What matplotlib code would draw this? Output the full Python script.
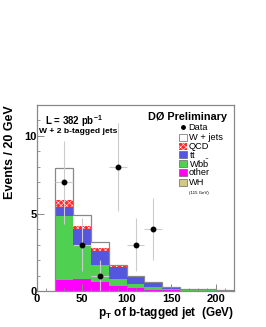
import numpy as np
import matplotlib
matplotlib.use("Agg")
import matplotlib.pyplot as plt
from matplotlib.patches import Rectangle

plt.rcParams['font.family'] = ['Liberation Sans', 'DejaVu Sans']
plt.rcParams['mathtext.fontset'] = 'custom'
plt.rcParams['mathtext.rm'] = 'Liberation Sans'
plt.rcParams['mathtext.bf'] = 'Liberation Sans:bold'
plt.rcParams['hatch.linewidth'] = 0.4

# bin edges (GeV)
edges = np.arange(20, 221, 20)

# stacked components per bin
other = [0.72, 0.77, 0.60, 0.32, 0.17, 0.08, 0.04, 0.03, 0.02, 0.02]
wbb = [4.12, 2.13, 1.08, 0.45, 0.28, 0.16, 0.06, 0.03, 0.02, 0.02]
ttbar = [0.61, 1.08, 0.92, 0.75, 0.48, 0.33, 0.12, 0.05, 0.05, 0.04]
qcd = [0.42, 0.21, 0.15, 0.13, 0.04, 0.03, 0.02, 0.01, 0.01, 0.01]
wjets = [2.03, 0.71, 0.37, 0.00, 0.00, 0.00, 0.00, 0.00, 0.00, 0.00]
wh = [0.01, 0.01, 0.01, 0.01, 0.01, 0.0, 0.0, 0.0, 0.0, 0.0]

# data
data_x = [30, 50, 70, 90, 110, 130]
data_y = [7, 3, 1, 8, 3, 4]

fig = plt.figure(figsize=(2.66, 3.27), dpi=100)
ax = fig.add_axes([0.139, 0.110, 0.741, 0.569])

lefts = edges[:-1]
bottom = np.zeros(len(lefts))
layers = [(other, '#ff00ff', None), (wbb, '#50d050', None), (ttbar, '#5555dd', None),
          (qcd, '#ff2a2a', 'xxxxxx'), (wh, '#d4c884', None), (wjets, 'white', None)]
for vals, col, hatch in layers:
    vals = np.array(vals)
    if hatch:
        ax.bar(lefts, vals, width=20, bottom=bottom, align='edge', color=col,
               edgecolor='white', hatch=hatch, linewidth=0)
    else:
        ax.bar(lefts, vals, width=20, bottom=bottom, align='edge', color=col, linewidth=0)
    bottom = bottom + vals

ax.stairs(bottom, edges, baseline=0, color='#888888', linewidth=0.9)

yerr = np.sqrt(data_y)
ax.errorbar(data_x, data_y, xerr=10, yerr=yerr, fmt='o', color='black', ms=3.2,
            ecolor='#cccccc', elinewidth=0.8, capsize=0, zorder=5)

ax.set_xlim(0, 220)
ax.set_ylim(0, 12)
ax.set_xticks([0, 50, 100, 150, 200])
ax.set_xticks(np.arange(0, 221, 10), minor=True)
ax.set_yticks([0, 5, 10])
ax.set_yticks(np.arange(0, 12.1, 1), minor=True)
ax.tick_params(direction='in', which='major', length=5, width=0.7, color='#888888',
               labelsize=8)
ax.tick_params(axis='x', pad=2)
ax.tick_params(axis='y', pad=0)
ax.tick_params(direction='in', which='minor', length=2.5, width=0.6, color='#888888')
for lab in ax.get_xticklabels() + ax.get_yticklabels():
    lab.set_fontweight('bold')
for s in ax.spines.values():
    s.set_color('#888888')
    s.set_linewidth(0.9)

ax.set_xlabel(r'p$_\mathregular{T}$ of b-tagged jet  (GeV)', fontsize=8.5,
              fontweight='bold', loc='right', labelpad=1)
ax.set_ylabel('Events / 20 GeV', fontsize=9, fontweight='bold', loc='top', labelpad=6)

ax.text(0.04, 0.955, r'L = 382 pb$^{\mathbf{-1}}$', transform=ax.transAxes,
        fontsize=7, fontweight='bold', va='top')
ax.text(0.01, 0.875, 'W + 2 b-tagged jets', transform=ax.transAxes,
        fontsize=6.1, fontweight='bold', va='top')
ax.text(0.965, 0.96, 'DØ Preliminary', transform=ax.transAxes,
        fontsize=7.8, fontweight='bold', va='top', ha='right')

# legend drawn by hand
leg_labels = ['Data', 'W + jets', 'QCD', r'$\mathrm{t\bar{t}}$', r'Wb$\bar{\mathrm{b}}$', 'other', 'WH']
leg_colors = [None, 'white', '#ff2a2a', '#5555dd', '#50d050', '#ff00ff', '#d4c884']
leg_y = [127.5, 137.5, 146.5, 155, 164, 173, 182.5]   # pixel rows of the entries
box_x0, box_w, box_h = (179 - 37) / 197, 8 / 197, 7 / 186
text_x = (188.5 - 37) / 197
for lab, col, py in zip(leg_labels, leg_colors, leg_y):
    yc = (291 - py) / 186
    if col is None:
        ax.plot(box_x0 + box_w / 2, yc, 'o', color='black', ms=2.5, transform=ax.transAxes,
                clip_on=False)
    else:
        hatch = 'xxxxxx' if lab == 'QCD' else None
        ec = 'white' if hatch else '#666666'
        ax.add_patch(Rectangle((box_x0, yc - box_h / 2), box_w, box_h, transform=ax.transAxes,
                               facecolor=col, edgecolor=ec, hatch=hatch,
                               linewidth=0 if hatch else 0.5))
    ax.text(text_x, yc, lab, transform=ax.transAxes, fontsize=6.7, va='center', ha='left')
ax.text(text_x, (291 - 193) / 186, '(115 GeV)', transform=ax.transAxes, fontsize=3.2,
        va='center')

fig.savefig('out.png', dpi=100)
